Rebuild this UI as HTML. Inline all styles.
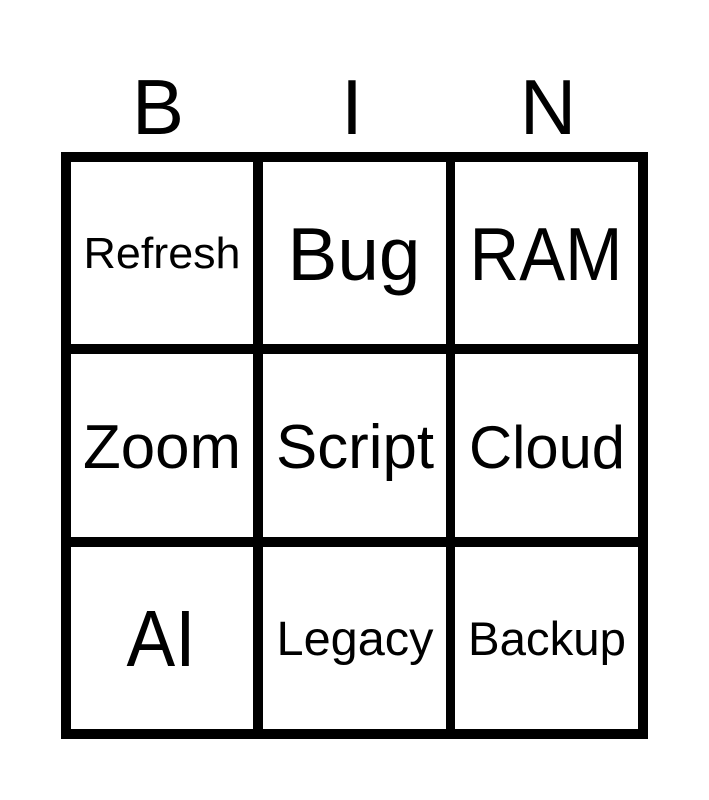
<!DOCTYPE html>
<html><head><meta charset="utf-8"><style>
html,body{margin:0;padding:0;background:#fff;}
svg{display:block;}
text{font-family:"Liberation Sans",Arial,sans-serif;fill:#000;text-anchor:middle;}
</style></head><body>
<svg width="709" height="800" viewBox="0 0 709 800">
<rect width="709" height="800" fill="#fff"/>
<text x="158" y="134" font-size="78">B</text>
<text x="352" y="134" font-size="78">I</text>
<text x="548" y="134" font-size="78">N</text>
<g fill="#000">
<rect x="61" y="152" width="587" height="10"/>
<rect x="61" y="344" width="587" height="10"/>
<rect x="61" y="537" width="587" height="10"/>
<rect x="61" y="729" width="587" height="10"/>
<rect x="61" y="152" width="10" height="587"/>
<rect x="253" y="152" width="10" height="587"/>
<rect x="446" y="152" width="9" height="587"/>
<rect x="638" y="152" width="10" height="587"/>
</g>
<text x="162" y="268" font-size="44" textLength="157" lengthAdjust="spacingAndGlyphs">Refresh</text>
<text x="354" y="280" font-size="75" textLength="133" lengthAdjust="spacingAndGlyphs">Bug</text>
<text x="546" y="280" font-size="75" textLength="153" lengthAdjust="spacingAndGlyphs">RAM</text>
<text x="162" y="468" font-size="62" textLength="158" lengthAdjust="spacingAndGlyphs">Zoom</text>
<text x="355" y="468" font-size="62" textLength="158" lengthAdjust="spacingAndGlyphs">Script</text>
<text x="547" y="468" font-size="60" textLength="156" lengthAdjust="spacingAndGlyphs">Cloud</text>
<text x="161" y="666" font-size="80" textLength="69" lengthAdjust="spacingAndGlyphs">AI</text>
<text x="355" y="655" font-size="48" textLength="157" lengthAdjust="spacingAndGlyphs">Legacy</text>
<text x="547" y="655" font-size="47" textLength="158" lengthAdjust="spacingAndGlyphs">Backup</text>
</svg>
</body></html>
